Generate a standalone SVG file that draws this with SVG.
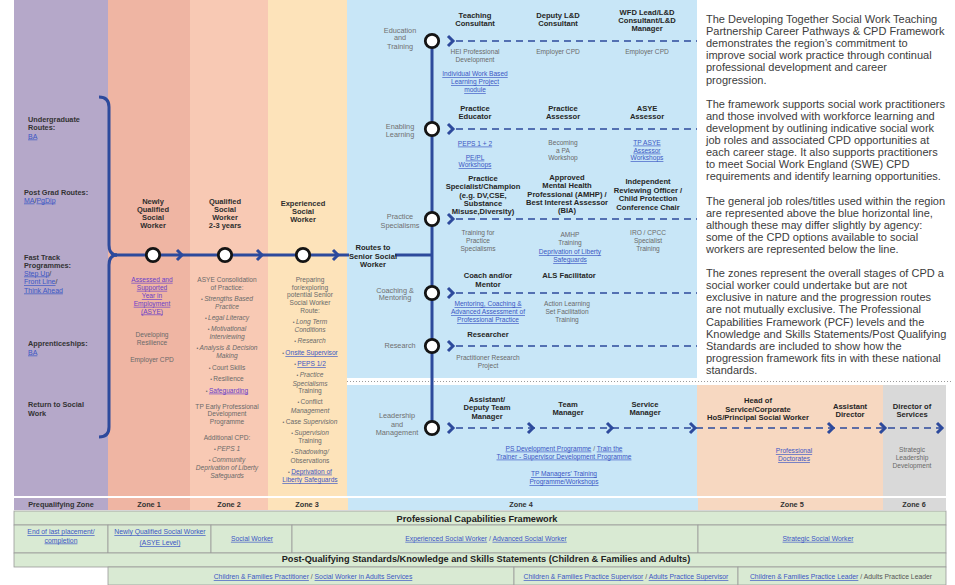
<svg xmlns="http://www.w3.org/2000/svg" width="955" height="585" viewBox="0 0 955 585">
<style>
text{font-family:"Liberation Sans",Arial,sans-serif;text-anchor:middle}
.b{font-weight:bold;font-size:7.6px;fill:#262626}
.hz{font-weight:bold;font-size:7.5px;fill:#2e2e2e}
.g{font-size:6.6px;fill:#6a6a6a}
.lb{font-size:7.3px;fill:#707070}
.lk{fill:#3b56c4;text-decoration:underline}
.vs{fill:#6a3ec8;text-decoration:underline}
.dk{fill:#333}
.it{font-style:italic}
.bu{font-size:5px}
.p{font-size:11px;fill:#3c3c3c;text-anchor:start}
.pq{font-size:7.3px;font-weight:bold;fill:#333;text-anchor:start}
.pl{font-size:7px;text-anchor:start}
.z{font-size:7.3px;font-weight:bold;fill:#333}
.hd{font-size:9.2px;font-weight:bold;fill:#222}
.r{font-size:6.8px}
.ln{stroke:#2d4a9c;stroke-width:3;fill:none}
.dash{stroke:#2d4a9c;stroke-width:1.6;stroke-dasharray:7 5;fill:none}
.chev{stroke:#2d4a9c;stroke-width:3;fill:none;stroke-linejoin:miter}
.node{fill:#fff;stroke:#141414;stroke-width:2.8}
.cell{fill:#d9ead3;stroke:#9a9a9a;stroke-width:0.8}
</style>
<defs>
<path id="cv" class="chev" d="M-5,-5 L0,0 L-5,5"/>
</defs>
<rect width="955" height="585" fill="#fff"/>
<g id="zones">
<rect x="14" y="0" width="95" height="496" fill="#b5a8c9"/>
<rect x="108" y="0" width="82" height="496" fill="#efb5a3"/>
<rect x="190" y="0" width="78" height="496" fill="#f8c9b4"/>
<rect x="268" y="0" width="79" height="496" fill="#fde3ba"/>
<rect x="347" y="0" width="350" height="378" fill="#c8e6f7"/>
<rect x="347" y="385" width="350" height="111" fill="#c8e6f7"/>
<rect x="697" y="385" width="186" height="111" fill="#f7d8c1"/>
<rect x="883" y="385" width="63" height="111" fill="#d9d9d9"/>
<line x1="347" y1="381.5" x2="952" y2="381.5" stroke="#9a9a9a" stroke-width="1" stroke-dasharray="1 2"/>
</g>
<g id="zone-labels">
<rect x="14" y="498" width="94" height="12" fill="#b5a8c9"/>
<rect x="108" y="498" width="82" height="12" fill="#efb5a3"/>
<rect x="190" y="498" width="78" height="12" fill="#f8c9b4"/>
<rect x="268" y="498" width="80" height="12" fill="#fde3ba"/>
<rect x="348" y="498" width="350" height="12" fill="#c8e6f7"/>
<rect x="698" y="498" width="185" height="12" fill="#f7d8c1"/>
<rect x="883" y="498" width="63" height="12" fill="#d9d9d9"/>
<text class="z" x="61" y="507">Prequalifying Zone</text>
<text class="z" x="149" y="507">Zone 1</text>
<text class="z" x="229" y="507">Zone 2</text>
<text class="z" x="307" y="507">Zone 3</text>
<text class="z" x="521" y="507">Zone 4</text>
<text class="z" x="792" y="507">Zone 5</text>
<text class="z" x="914" y="507">Zone 6</text>
</g>
<g id="pcf">
<rect class="cell" x="14" y="511" width="932" height="14"/>
<text class="hd" x="477" y="522">Professional Capabilities Framework</text>
<rect class="cell" x="14" y="525" width="94" height="28"/>
<rect class="cell" x="108" y="525" width="103" height="28"/>
<rect class="cell" x="211" y="525" width="81" height="28"/>
<rect class="cell" x="292" y="525" width="406" height="28"/>
<rect class="cell" x="698" y="525" width="248" height="28"/>
<text class="r lk" x="61" y="534.2">End of last placement/</text>
<text class="r lk" x="61" y="542.5">completion</text>
<text class="r lk" x="160" y="534.2">Newly Qualified Social  Worker</text>
<text class="r lk" x="160" y="545">(ASYE Level)</text>
<text class="r lk" x="252" y="540.8">Social Worker</text>
<text class="r" x="486" y="540.8"><tspan class="lk">Experienced Social Worker</tspan><tspan fill="#3b56c4"> / </tspan><tspan class="lk">Advanced Social Worker</tspan></text>
<text class="r lk" x="818" y="540.8">Strategic Social Worker</text>
</g>
<g id="pqs">
<rect class="cell" x="14" y="553" width="932" height="14"/>
<text class="hd" x="486" y="562">Post-Qualifying Standards/Knowledge and Skills Statements (Children &amp; Families and Adults)</text>
<rect class="cell" x="108" y="567" width="406" height="18"/>
<rect class="cell" x="514" y="567" width="224" height="18"/>
<rect class="cell" x="738" y="567" width="208" height="18"/>
<text class="r" x="313" y="579"><tspan class="lk">Children &amp; Families Practitioner</tspan><tspan fill="#555"> / </tspan><tspan class="lk">Social Worker in Adults Services</tspan></text>
<text class="r" x="626" y="579"><tspan class="lk">Children &amp; Families Practice Supervisor</tspan><tspan fill="#555"> / </tspan><tspan class="lk">Adults Practice Supervisor</tspan></text>
<text class="r" x="841" y="579"><tspan class="lk">Children &amp; Families Practice Leader</tspan><tspan fill="#555"> / Adults Practice Leader</tspan></text>
</g>
<g id="connectors">
<path class="ln" d="M99,97 Q109,97 109,107 L109,245 Q109,255 117,255"/>
<path class="ln" d="M99,437 Q109,437 109,427 L109,265 Q109,255 117,255"/>
<line class="ln" x1="115" y1="255" x2="349" y2="255"/>
<line class="ln" x1="395" y1="255" x2="432" y2="255"/>
<line class="ln" x1="432" y1="41" x2="432" y2="428"/>
<use href="#cv" x="182" y="255"/>
<use href="#cv" x="262" y="255"/>
<use href="#cv" x="338" y="255"/>
<line class="dash" x1="456" y1="41" x2="697" y2="41"/>
<line class="dash" x1="456" y1="129" x2="697" y2="129"/>
<line class="dash" x1="456" y1="219" x2="697" y2="219"/>
<line class="dash" x1="456" y1="293" x2="697" y2="293"/>
<line class="dash" x1="456" y1="346" x2="697" y2="346"/>
<line class="dash" x1="456" y1="428" x2="940" y2="428"/>
<use href="#cv" x="453" y="41"/>
<use href="#cv" x="453" y="129"/>
<use href="#cv" x="453" y="219"/>
<use href="#cv" x="453" y="293"/>
<use href="#cv" x="453" y="346"/>
<use href="#cv" x="453" y="428"/>
<use href="#cv" x="533" y="428"/>
<use href="#cv" x="612" y="428"/>
<use href="#cv" x="695" y="428"/>
<use href="#cv" x="833" y="428"/>
<use href="#cv" x="885" y="428"/>
<use href="#cv" x="942" y="428"/>
</g>
<g id="prequalifying">
<text class="pq" x="28" y="121.5">Undergraduate</text>
<text class="pq" x="28" y="129.5">Routes:</text>
<text class="pl lk" x="28" y="138.5">BA</text>
<text class="pq" x="24" y="194.5">Post Grad Routes:</text>
<text class="pl" x="24" y="202.5"><tspan class="lk">MA</tspan><tspan class="dk">/</tspan><tspan class="lk">PgDip</tspan></text>
<text class="pq" x="24" y="259.5">Fast Track</text>
<text class="pq" x="24" y="267.5">Programmes:</text>
<text class="pl" x="24" y="275.5"><tspan class="lk">Step Up</tspan><tspan class="dk">/</tspan></text>
<text class="pl" x="24" y="284"><tspan class="lk">Front Line</tspan><tspan class="dk">/</tspan></text>
<text class="pl lk" x="24" y="292.5">Think Ahead</text>
<text class="pq" x="28" y="345.5">Apprenticeships:</text>
<text class="pl lk" x="28" y="354.5">BA</text>
<text class="pq" x="28" y="406.5">Return to Social</text>
<text class="pq" x="28" y="415.5">Work</text>
</g>
<g id="zone1-node">
<circle class="node" cx="153" cy="255" r="6.7"/>
<text class="hz" x="153" y="203.5">Newly</text>
<text class="hz" x="153" y="211.5">Qualified</text>
<text class="hz" x="153" y="219.5">Social</text>
<text class="hz" x="153" y="227.5">Worker</text>
<text class="g vs" x="152" y="281.8">Assessed and</text>
<text class="g vs" x="152" y="289.8">Supported</text>
<text class="g vs" x="152" y="298">Year in</text>
<text class="g vs" x="152" y="305.8">Employment</text>
<text class="g vs" x="152" y="313.5">(ASYE)</text>
<text class="g" x="152" y="336.8">Developing</text>
<text class="g" x="152" y="344.8">Resilience</text>
<text class="g" x="152" y="361.8">Employer CPD</text>
</g>
<g id="zone2-node">
<circle class="node" cx="225" cy="255" r="6.7"/>
<text class="hz" x="225" y="203.5">Qualified</text>
<text class="hz" x="225" y="211.5">Social</text>
<text class="hz" x="225" y="219.5">Worker</text>
<text class="hz" x="225" y="227.5">2-3 years</text>
<text class="g" x="227" y="281.6">ASYE Consolidation</text>
<text class="g" x="227" y="289.6">of Practice:</text>
<text class="g" x="227" y="300.6"><tspan class="bu">• </tspan><tspan class="it">Strengths Based</tspan></text>
<text class="g it" x="227" y="309">Practice</text>
<text class="g" x="227" y="319.6"><tspan class="bu">• </tspan><tspan class="it">Legal Literacy</tspan></text>
<text class="g" x="227" y="331.3"><tspan class="bu">• </tspan><tspan class="it">Motivational</tspan></text>
<text class="g it" x="227" y="339">Interviewing</text>
<text class="g" x="227" y="350"><tspan class="bu">• </tspan><tspan class="it">Analysis &amp; Decision</tspan></text>
<text class="g it" x="227" y="358.3">Making</text>
<text class="g" x="227" y="369.6"><tspan class="bu">• </tspan>Court Skills</text>
<text class="g" x="227" y="381"><tspan class="bu">• </tspan>Resilience</text>
<text class="g" x="227" y="392.6"><tspan class="bu">• </tspan><tspan class="vs">Safeguarding</tspan></text>
<text class="g" x="227" y="408.6">TP Early Professional</text>
<text class="g" x="227" y="416.3">Development</text>
<text class="g" x="227" y="424.3">Programme</text>
<text class="g" x="227" y="440">Additional CPD:</text>
<text class="g" x="227" y="450.6"><tspan class="bu">• </tspan><tspan class="it">PEPS 1</tspan></text>
<text class="g" x="227" y="462"><tspan class="bu">• </tspan><tspan class="it">Community</tspan></text>
<text class="g it" x="227" y="470.3">Deprivation of Liberty</text>
<text class="g it" x="227" y="478.3">Safeguards</text>
</g>
<g id="zone3-node">
<circle class="node" cx="303" cy="255" r="6.7"/>
<text class="hz" x="303" y="206">Experienced</text>
<text class="hz" x="303" y="214">Social</text>
<text class="hz" x="303" y="222.3">Worker</text>
<text class="g" x="310" y="281.6">Preparing</text>
<text class="g" x="310" y="289.6">for/exploring</text>
<text class="g" x="310" y="297.3">potential Senior</text>
<text class="g" x="310" y="305">Social Worker</text>
<text class="g" x="310" y="313">Route:</text>
<text class="g" x="310" y="324"><tspan class="bu">• </tspan><tspan class="it">Long Term</tspan></text>
<text class="g it" x="310" y="332.3">Conditions</text>
<text class="g" x="310" y="343.3"><tspan class="bu">• </tspan><tspan class="it">Research</tspan></text>
<text class="g" x="310" y="355"><tspan class="bu">• </tspan><tspan class="lk">Onsite Supervisor</tspan></text>
<text class="g" x="310" y="366"><tspan class="bu">• </tspan><tspan class="lk">PEPS 1/2</tspan></text>
<text class="g" x="310" y="377.3"><tspan class="bu">• </tspan><tspan class="it">Practice</tspan></text>
<text class="g it" x="310" y="385.6">Specialisms</text>
<text class="g" x="310" y="393.3">Training</text>
<text class="g" x="310" y="404.3"><tspan class="bu">• </tspan>Conflict</text>
<text class="g it" x="310" y="412.6">Management</text>
<text class="g" x="310" y="423.6"><tspan class="bu">• </tspan>Case <tspan class="it">Supervision</tspan></text>
<text class="g" x="310" y="435"><tspan class="bu">• </tspan><tspan class="it">Supervision</tspan></text>
<text class="g" x="310" y="443.3">Training</text>
<text class="g" x="310" y="454.3"><tspan class="bu">• </tspan><tspan class="it">Shadowing/</tspan></text>
<text class="g" x="310" y="462.6">Observations</text>
<text class="g" x="310" y="473.6"><tspan class="bu">• </tspan><tspan class="lk">Deprivation of</tspan></text>
<text class="g lk" x="310" y="482">Liberty Safeguards</text>
</g>
<g id="routes-senior">
<text class="b" x="373" y="249.6">Routes to</text>
<text class="b" x="373" y="258.6">Senior Social</text>
<text class="b" x="373" y="267">Worker</text>
</g>
<g id="education-training">
<circle class="node" cx="432" cy="41" r="6.7"/>
<text class="lb" x="400" y="32.5">Education</text>
<text class="lb" x="400" y="40.3">and</text>
<text class="lb" x="400" y="48.5">Training</text>
<text class="b" x="475" y="18">Teaching</text>
<text class="b" x="475" y="26.2">Consultant</text>
<text class="b" x="558" y="18">Deputy L&amp;D</text>
<text class="b" x="558" y="26.2">Consultant</text>
<text class="b" x="647" y="14.5">WFD Lead/L&amp;D</text>
<text class="b" x="647" y="22.8">Consultant/L&amp;D</text>
<text class="b" x="647" y="31.1">Manager</text>
<text class="g" x="475" y="54">HEI Professional</text>
<text class="g" x="475" y="62.3">Development</text>
<text class="g" x="558" y="54">Employer CPD</text>
<text class="g" x="647" y="54">Employer CPD</text>
<text class="g lk" x="475" y="76.3">Individual Work Based</text>
<text class="g lk" x="475" y="84.3">Learning Project</text>
<text class="g lk" x="475" y="92.3">module</text>
</g>
<g id="enabling-learning">
<circle class="node" cx="432" cy="129" r="6.7"/>
<text class="lb" x="400" y="128.6">Enabling</text>
<text class="lb" x="400" y="136.6">Learning</text>
<text class="b" x="475" y="111">Practice</text>
<text class="b" x="475" y="119.4">Educator</text>
<text class="b" x="563" y="111">Practice</text>
<text class="b" x="563" y="119.4">Assessor</text>
<text class="b" x="647" y="111">ASYE</text>
<text class="b" x="647" y="119.4">Assessor</text>
<text class="g lk" x="475" y="145.6">PEPS 1 + 2</text>
<text class="g lk" x="475" y="159.6">PE/PL</text>
<text class="g lk" x="475" y="167.3">Workshops</text>
<text class="g" x="563" y="144.6">Becoming</text>
<text class="g" x="563" y="152.6">a PA</text>
<text class="g" x="563" y="160.3">Workshop</text>
<text class="g lk" x="647" y="144.6">TP ASYE</text>
<text class="g lk" x="647" y="152.6">Assessor</text>
<text class="g lk" x="647" y="160.3">Workshops</text>
</g>
<g id="practice-specialisms">
<circle class="node" cx="432" cy="219" r="6.7"/>
<text class="lb" x="400" y="218.6">Practice</text>
<text class="lb" x="400" y="227.6">Specialisms</text>
<text class="b" x="483" y="181">Practice</text>
<text class="b" x="483" y="189.4">Specialist/Champion</text>
<text class="b" x="483" y="197.7">(e.g. DV,CSE,</text>
<text class="b" x="483" y="206">Substance</text>
<text class="b" x="483" y="214.4">Misuse,Diversity)</text>
<text class="b" x="567" y="180">Approved</text>
<text class="b" x="567" y="188.4">Mental Health</text>
<text class="b" x="567" y="196.7">Professional (AMHP) /</text>
<text class="b" x="567" y="205">Best Interest Assessor</text>
<text class="b" x="567" y="213.4">(BIA)</text>
<text class="b" x="648" y="184.4">Independent</text>
<text class="b" x="648" y="192.7">Reviewing Officer /</text>
<text class="b" x="648" y="201">Child Protection</text>
<text class="b" x="648" y="210">Conference Chair</text>
<text class="g" x="478" y="235">Training for</text>
<text class="g" x="478" y="243.3">Practice</text>
<text class="g" x="478" y="251.3">Specialisms</text>
<text class="g" x="570" y="237.3">AMHP</text>
<text class="g" x="570" y="245.3">Training</text>
<text class="g lk" x="570" y="254">Deprivation of Liberty</text>
<text class="g lk" x="570" y="262.3">Safeguards</text>
<text class="g" x="648" y="235">IRO / CPCC</text>
<text class="g" x="648" y="243.3">Specialist</text>
<text class="g" x="648" y="251.3">Training</text>
</g>
<g id="coaching-mentoring">
<circle class="node" cx="432" cy="293" r="6.7"/>
<text class="lb" x="395" y="292.6">Coaching &amp;</text>
<text class="lb" x="395" y="300.3">Mentoring</text>
<text class="b" x="488" y="278.4">Coach and/or</text>
<text class="b" x="488" y="286.7">Mentor</text>
<text class="b" x="569" y="278.4">ALS Facilitator</text>
<text class="g lk" x="488" y="306.3">Mentoring, Coaching &amp;</text>
<text class="g lk" x="488" y="314.3">Advanced Assessment of</text>
<text class="g lk" x="488" y="322.3">Professional Practice</text>
<text class="g" x="567" y="306.3">Action Learning</text>
<text class="g" x="567" y="314.3">Set Facilitation</text>
<text class="g" x="567" y="322.3">Training</text>
</g>
<g id="research">
<circle class="node" cx="432" cy="346" r="6.7"/>
<text class="lb" x="400" y="347.6">Research</text>
<text class="b" x="488" y="336.7">Researcher</text>
<text class="g" x="488" y="359.6">Practitioner Research</text>
<text class="g" x="488" y="367.6">Project</text>
</g>
<g id="leadership-management">
<circle class="node" cx="432" cy="428" r="6.7"/>
<text class="lb" x="397" y="418.3">Leadership</text>
<text class="lb" x="397" y="426.6">and</text>
<text class="lb" x="397" y="434.9">Management</text>
<text class="b" x="487" y="401.7">Assistant/</text>
<text class="b" x="487" y="410">Deputy Team</text>
<text class="b" x="487" y="418.7">Manager</text>
<text class="b" x="568" y="406.7">Team</text>
<text class="b" x="568" y="415">Manager</text>
<text class="b" x="645" y="406.7">Service</text>
<text class="b" x="645" y="415">Manager</text>
<text class="g" x="564" y="450.6"><tspan class="lk">PS Development  Programme</tspan> / <tspan class="lk">Train the</tspan></text>
<text class="g lk" x="564" y="458.6">Trainer - Supervisor Development Programme</text>
<text class="g lk" x="564" y="476">TP Managers' Training</text>
<text class="g lk" x="564" y="484">Programme/Workshops</text>
<text class="b" x="758" y="403.4">Head of</text>
<text class="b" x="758" y="411.7">Service/Corporate</text>
<text class="b" x="758" y="420">HoS/Principal Social Worker</text>
<text class="b" x="850" y="408.7">Assistant</text>
<text class="b" x="850" y="417">Director</text>
<text class="b" x="912" y="408.7">Director of</text>
<text class="b" x="912" y="417">Services</text>
<text class="g lk" x="794" y="453">Professional</text>
<text class="g lk" x="794" y="461.3">Doctorates</text>
<text class="g" x="912" y="452.3">Strategic</text>
<text class="g" x="912" y="460.3">Leadership</text>
<text class="g" x="912" y="468.3">Development</text>
</g>
<g id="description">
<text class="p" x="706" y="23">The Developing Together Social Work Teaching</text>
<text class="p" x="706" y="35.1">Partnership Career Pathways &amp; CPD Framework</text>
<text class="p" x="706" y="47.2">demonstrates the region’s commitment to</text>
<text class="p" x="706" y="59.3">improve social work practice through continual</text>
<text class="p" x="706" y="71.4">professional development and career</text>
<text class="p" x="706" y="83.5">progression.</text>
<text class="p" x="706" y="107.7">The framework supports social work practitioners</text>
<text class="p" x="706" y="119.8">and those involved with workforce learning and</text>
<text class="p" x="706" y="131.9">development by outlining indicative social work</text>
<text class="p" x="706" y="144">job roles and associated CPD opportunities at</text>
<text class="p" x="706" y="156.1">each career stage. It also supports practitioners</text>
<text class="p" x="706" y="168.2">to meet Social Work England (SWE) CPD</text>
<text class="p" x="706" y="180.3">requirements and identify learning opportunities.</text>
<text class="p" x="706" y="204.5">The general job roles/titles used within the region</text>
<text class="p" x="706" y="216.6">are represented above the blue horizontal line,</text>
<text class="p" x="706" y="228.7">although these may differ slightly by agency:</text>
<text class="p" x="706" y="240.8">some of the CPD options available to social</text>
<text class="p" x="706" y="252.9">workers are represented below the line.</text>
<text class="p" x="706" y="277.1">The zones represent the overall stages of CPD a</text>
<text class="p" x="706" y="289.2">social worker could undertake but are not</text>
<text class="p" x="706" y="301.3">exclusive in nature and the progression routes</text>
<text class="p" x="706" y="313.4">are not mutually exclusive. The Professional</text>
<text class="p" x="706" y="325.5">Capabilities Framework (PCF) levels and the</text>
<text class="p" x="706" y="337.6">Knowledge and Skills Statements/Post Qualifying</text>
<text class="p" x="706" y="349.7">Standards are included to show how the</text>
<text class="p" x="706" y="361.8">progression framework fits in with these national</text>
<text class="p" x="706" y="373.9">standards.</text>
</g>
</svg>
